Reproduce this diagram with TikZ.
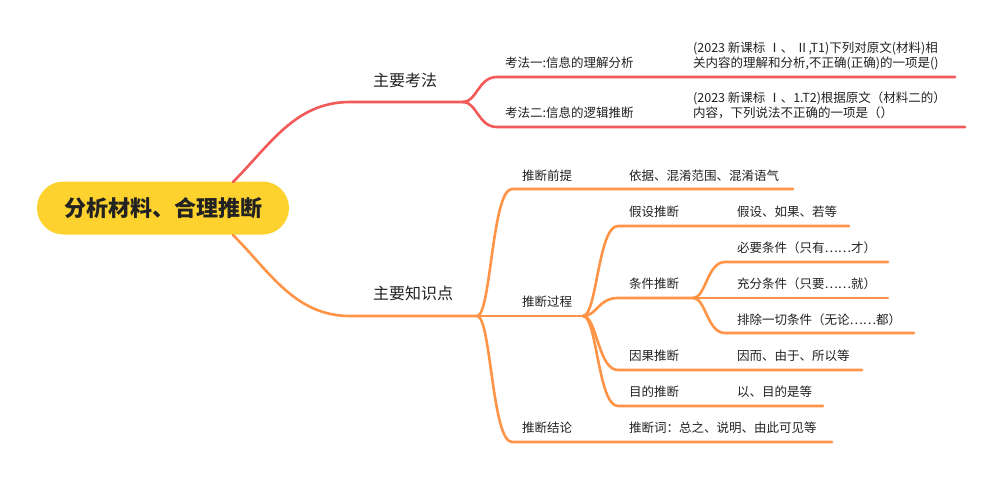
\documentclass[tikz,border=0pt]{standalone}
\usepackage{fontspec}
\setmainfont{Noto Sans CJK SC}
\definecolor{redc}{HTML}{F25A5A}
\definecolor{orgc}{HTML}{FF9447}
\definecolor{pillc}{HTML}{FDD22E}
\definecolor{txtc}{HTML}{222222}
\begin{document}
\begin{tikzpicture}[x=1pt,y=-1pt,
  redl/.style={draw=redc,line width=2.6pt,line cap=round},
  orgl/.style={draw=orgc,line width=2.6pt,line cap=round},
  lbl/.style={anchor=west,inner sep=0pt,text=txtc,font=\fontsize{12.5}{15}\selectfont,text height=11pt,text depth=1.5pt},
  mainlbl/.style={anchor=west,inner sep=0pt,text=txtc,font=\fontsize{16}{19}\selectfont,text height=14pt,text depth=2pt},
  pill/.style={fill=pillc,rounded corners=26.5pt,minimum width=252pt,minimum height=53pt,inner sep=0pt,text=txtc,font=\fontsize{22}{26}\selectfont\bfseries}]
\useasboundingbox (0,0) rectangle (983,477);
\fill[white] (0,0) rectangle (983,477);

% root
\node[pill] (root) at (163,208) {分析材料、合理推断};

% red branch
\coordinate (r0) at (233,182);
\coordinate (r1) at (350,102);
\coordinate (rf) at (463,102);
\draw[redl] (r0) .. controls +(37,-37) and +(-55,0) .. (r1) -- (rf);
\node[mainlbl] (kf) at (373,80) {主要考法};

\coordinate (k1s) at (497,77); \coordinate (k1e) at (955,77);
\coordinate (k2s) at (497,127); \coordinate (k2e) at (965,127);
\draw[redl] (rf) .. controls +(14,0) and +(-19,0) .. (k1s) -- (k1e);
\draw[redl] (rf) .. controls +(14,0) and +(-19,0) .. (k2s) -- (k2e);
\node[lbl] (k1) at (505,63) {考法一:信息的理解分析};
\node[lbl] (k1a) at (693,48) {(2023 新课标 Ⅰ、 Ⅱ,T1)下列对原文(材料)相};
\node[lbl] (k1b) at (693,63) {关内容的理解和分析,不正确(正确)的一项是()};
\node[lbl] (k2) at (505,113) {考法二:信息的逻辑推断};
\node[lbl] (k2a) at (693,98) {(2023 新课标 Ⅰ、1.T2)根据原文（材料二的）};
\node[lbl] (k2b) at (693,113) {内容，下列说法不正确的一项是（）};

% orange branch
\coordinate (o0) at (233,235);
\coordinate (o1) at (350,316);
\coordinate (of) at (477,316);
\draw[orgl] (o0) .. controls +(37,37) and +(-55,0) .. (o1) -- (of);
\node[mainlbl] (zs) at (373,293) {主要知识点};

\coordinate (p1s) at (512,189); \coordinate (p1e) at (793,189);
\coordinate (pf) at (583,316);
\coordinate (p3s) at (512,442); \coordinate (p3e) at (832,442);
\draw[orgl] (of) .. controls +(14,0) and +(-20,0) .. (p1s) -- (p1e);
\draw[orgl] (of) -- (pf);
\draw[orgl] (of) .. controls +(14,0) and +(-20,0) .. (p3s) -- (p3e);
\node[lbl] (p1) at (522,176) {推断前提};
\node[lbl] (p1t) at (629,176) {依据、混淆范围、混淆语气};
\node[lbl] (p2) at (522,302) {推断过程};
\node[lbl] (p3) at (522,428) {推断结论};
\node[lbl] (p3t) at (629,428) {推断词：总之、说明、由此可见等};

% sub of 推断过程
\coordinate (a1s) at (618,226); \coordinate (a1e) at (849,226);
\coordinate (a2s) at (618,298); \coordinate (a2f) at (693,298);
\coordinate (a3s) at (618,370); \coordinate (a3e) at (862,370);
\coordinate (a4s) at (618,406); \coordinate (a4e) at (823,406);
\draw[orgl] (pf) .. controls +(14,0) and +(-20,0) .. (a1s) -- (a1e);
\draw[orgl] (pf) .. controls +(14,0) and +(-20,0) .. (a2s) -- (a2f);
\draw[orgl] (pf) .. controls +(14,0) and +(-20,0) .. (a3s) -- (a3e);
\draw[orgl] (pf) .. controls +(14,0) and +(-20,0) .. (a4s) -- (a4e);
\node[lbl] (a1) at (629,212) {假设推断};
\node[lbl] (a1t) at (737,212) {假设、如果、若等};
\node[lbl] (a2) at (629,284) {条件推断};
\node[lbl] (a3) at (629,356) {因果推断};
\node[lbl] (a3t) at (737,356) {因而、由于、所以等};
\node[lbl] (a4) at (629,392) {目的推断};
\node[lbl] (a4t) at (737,392) {以、目的是等};

% sub of 条件推断
\coordinate (b1s) at (725,262); \coordinate (b1e) at (888,262);
\coordinate (b2e) at (888,298);
\coordinate (b3s) at (725,333); \coordinate (b3e) at (914,333);
\draw[orgl] (a2f) .. controls +(13,0) and +(-18,0) .. (b1s) -- (b1e);
\draw[orgl] (a2f) -- (b2e);
\draw[orgl] (a2f) .. controls +(13,0) and +(-18,0) .. (b3s) -- (b3e);
\node[lbl] (b1) at (737,248) {必要条件（只有……才）};
\node[lbl] (b2) at (737,284) {充分条件（只要……就）};
\node[lbl] (b3) at (737,320) {排除一切条件（无论……都）};
\end{tikzpicture}
\end{document}
